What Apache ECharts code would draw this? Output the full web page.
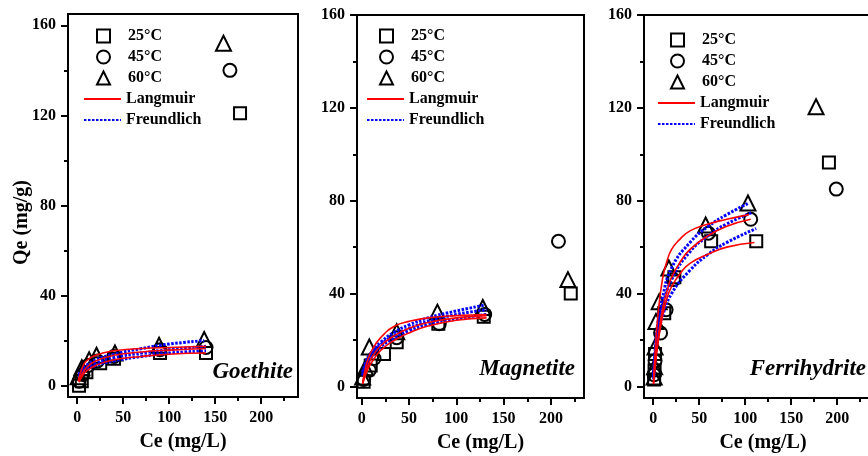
<!DOCTYPE html>
<html><head><meta charset="utf-8">
<script src="https://cdn.jsdelivr.net/npm/echarts@6/dist/echarts.min.js"></script>
<style>html,body{margin:0;padding:0;background:#fff}#c{width:868px;height:456px}</style>
</head><body><div id="c"></div><script>
// ---------- data ----------
const panelNames = ['Goethite', 'Magnetite', 'Ferrihydrite'];
const tempNames = ['25°C', '45°C', '60°C'];
const fitNames = ['Langmuir', 'Freundlich'];
const xTickValues = [0, 50, 100, 150, 200];
const xMinorTickValues = [25, 75, 125, 175, 225];
const yTickValues = [0, 40, 80, 120, 160];
const yMinorTickValues = [20, 60, 100, 140];
const xAxisTitle = 'Ce (mg/L)';
const yAxisTitle = 'Qe (mg/g)';

// Goethite
const goethite25 = [[2,0],[5,2],[10,6],[25,10],[40,12],[90,14.5],[140,14.5],[177,121]];
const goethite45 = [[2,2],[6,5],[12,9],[22,11],[40,13],[90,16],[140,17],[166,140]];
const goethite60 = [[1,4],[5,8],[13,11.5],[21,13.5],[41,14.5],[89,18],[138,20.5],[159,152]];
const goethiteL25 = [[2,1.5],[5,4],[10,6.5],[20,9],[40,11.5],[70,13],[100,14],[140,14.5]];
const goethiteL45 = [[2,2],[5,5],[10,8],[20,11],[40,13.5],[70,15],[100,15.8],[140,16.5]];
const goethiteL60 = [[1,2],[3,5],[6,8.5],[10,11],[20,13.5],[40,15.5],[70,16.5],[100,17],[140,17.5]];
const goethiteF25 = [[2,3],[5,5],[10,7],[20,9],[40,11],[70,13],[100,14.5],[140,15.5]];
const goethiteF45 = [[2,4],[5,6],[10,8],[20,10],[40,12.5],[70,14.5],[100,16],[140,17.5]];
const goethiteF60 = [[2,5],[5,7],[10,9],[20,11.5],[40,14],[70,16.5],[100,18.5],[138,20]];

// Magnetite
const magnetite25 = [[2,2],[9.5,9],[23.5,14],[37,19],[81,27],[129,30],[221,40]];
const magnetite45 = [[2,3],[8,7],[13,12],[37,21],[82,27],[130,31],[208,62.5]];
const magnetite60 = [[1,4],[4,8],[8,17],[37,23.5],[80,32],[128,34],[218,46]];
const magnetiteL25 = [[1,1],[5,6],[10,10],[20,15.5],[35,20],[50,23],[70,26],[100,28.5],[132,29.5]];
const magnetiteL45 = [[1,1.5],[5,7],[10,12],[20,17.5],[35,22],[50,25],[70,27.5],[100,29.5],[132,30.5]];
const magnetiteL60 = [[1,2],[3,6],[6,11],[10,15],[20,21],[35,26],[50,28],[70,29.5],[100,30.5],[132,31]];
const magnetiteF25 = [[1,4.5],[5,9],[10,12.5],[20,17],[35,21],[50,24],[70,26.5],[100,29],[132,31]];
const magnetiteF45 = [[1,5],[5,10],[10,13.5],[20,18],[35,22],[50,25],[70,28],[100,31],[132,33]];
const magnetiteF60 = [[1,6],[5,11],[10,14.5],[20,19],[35,23.5],[50,26.5],[70,29.5],[100,32.5],[130,35]];

// Ferrihydrite
const ferri25 = [[1,3],[1.5,7],[2,14],[12,31.5],[23,47],[63,62.5],[112,62.5],[191,96.5]];
const ferri45 = [[1,5],[2,11],[8,23],[14,33],[22,46],[60,66],[106,72],[199,85]];
const ferri60 = [[1,4],[1.5,8.5],[2,17],[3,28],[6.5,36.5],[17,51],[57,69.5],[103,79],[177,120.5]];
const ferriL25 = [[0.3,1],[2,8],[5,18],[10,30],[15,38],[20,43],[30,49],[40,53],[60,57],[80,60],[110,62]];
const ferriL45 = [[0.3,1],[2,9],[5,20],[10,33],[15,41],[20,47],[30,54],[40,59],[60,65],[80,69],[106,72]];
const ferriL60 = [[0.3,2],[2,14],[5,30],[10,46],[15,54],[20,59],[28,63],[40,67],[60,70],[80,72],[104,74]];
const ferriF25 = [[0.5,3],[2,11],[5,21],[10,30],[20,40],[40,50],[60,57],[80,62],[112,68]];
const ferriF45 = [[0.5,4],[2,13],[5,24],[10,34],[20,46],[40,58],[60,65],[80,70],[108,75]];
const ferriF60 = [[0.5,5],[2,15],[5,27],[10,38],[20,51],[40,62],[60,69],[80,74],[104,79]];

const scatterData = [
  [goethite25, goethite45, goethite60],
  [magnetite25, magnetite45, magnetite60],
  [ferri25, ferri45, ferri60]
];
const langmuirData = [
  [goethiteL25, goethiteL45, goethiteL60],
  [magnetiteL25, magnetiteL45, magnetiteL60],
  [ferriL25, ferriL45, ferriL60]
];
const freundlichData = [
  [goethiteF25, goethiteF45, goethiteF60],
  [magnetiteF25, magnetiteF45, magnetiteF60],
  [ferriF25, ferriF45, ferriF60]
];

// ---------- layout / style ----------
const FONT = "'Liberation Serif', 'Times New Roman', serif";
const grids = [
  {left: 68, top: 14, width: 230, height: 383},
  {left: 357, top: 15, width: 227, height: 383},
  {left: 644, top: 15, width: 230, height: 383}
];
const xRanges = [[-10, 240], [-5, 235], [-10, 240]];
const yRanges = [[-5, 165], [-5, 160], [-5, 160]];
const symbols = ['rect', 'circle', 'triangle'];
const symbolSizes = [12, 13, 15];
const legendLeft = [83, 366, 657];
const legendTop = [28, 28, 32];
const titlePos = [{right: 575, top: 361}, {right: 293, top: 358}, {right: 2, top: 358}];
const xNamePad = [0, 20, 8];

const legendText = {fontFamily: FONT, fontSize: 16, fontWeight: 'bold', color: '#000'};
const option = {
  backgroundColor: '#fff',
  animation: false,
  grid: grids.map(g => Object.assign({show: true, borderColor: '#000', borderWidth: 2, backgroundColor: 'transparent', containLabel: false, outerBoundsMode: 'none'}, g)),
  title: panelNames.map((n, i) => Object.assign({
    text: n, padding: 0,
    textStyle: {fontFamily: FONT, fontSize: 23, fontWeight: 'bold', fontStyle: 'italic', color: '#000'}
  }, titlePos[i])),
  legend: [],
  xAxis: [],
  yAxis: [],
  series: []
};

for (let i = 0; i < 3; i++) {
  // symbol legend (temperatures)
  option.legend.push({
    orient: 'vertical', left: legendLeft[i] + 13, top: legendTop[i],
    data: tempNames,
    itemWidth: 13, itemHeight: 13, itemGap: 5, padding: 0, selectedMode: false,
    textStyle: Object.assign({padding: [0, 0, 0, 13]}, legendText)
  });
  // fit-line legend
  option.legend.push({
    orient: 'vertical', left: legendLeft[i], top: legendTop[i] + 63,
    data: fitNames.map(n => ({name: n, itemStyle: {opacity: 0}})),
    itemWidth: 37, itemHeight: 13, itemGap: 5, padding: 0, selectedMode: false,
    textStyle: Object.assign({}, legendText)
  });
}

for (let i = 0; i < 3; i++) {
  option.xAxis.push({
    type: 'value', gridIndex: i, position: 'bottom', min: xRanges[i][0], max: xRanges[i][1],
    name: xAxisTitle, nameLocation: 'middle', nameGap: 35, nameMoveOverlap: false,
    nameTextStyle: {fontFamily: FONT, fontSize: 20, fontWeight: 'bold', color: '#000', padding: [0, 0, 0, xNamePad[i]]},
    axisLine: {show: true, onZero: false, lineStyle: {color: '#000', width: 2}},
    axisTick: {show: true, inside: false, length: 7, lineStyle: {color: '#000', width: 2}, customValues: xTickValues},
    axisLabel: {show: true, margin: 13, customValues: xTickValues, fontFamily: FONT, fontSize: 16, fontWeight: 'bold', color: '#000'},
    splitLine: {show: false}
  });
  option.yAxis.push({
    type: 'value', gridIndex: i, position: 'left', min: yRanges[i][0], max: yRanges[i][1],
    name: i === 0 ? yAxisTitle : '', nameLocation: 'middle', nameGap: 36, nameMoveOverlap: false,
    nameTextStyle: {fontFamily: FONT, fontSize: 20, fontWeight: 'bold', color: '#000', padding: [0, 34, 0, 0]},
    axisLine: {show: true, onZero: false, lineStyle: {color: '#000', width: 2}},
    axisTick: {show: true, inside: false, length: 7, lineStyle: {color: '#000', width: 2}, customValues: yTickValues},
    axisLabel: {show: true, margin: 12, customValues: yTickValues, fontFamily: FONT, fontSize: 16, fontWeight: 'bold', color: '#000'},
    splitLine: {show: false}
  });
}
for (let i = 0; i < 3; i++) {
  option.xAxis.push({
    type: 'value', gridIndex: i, position: 'bottom', min: xRanges[i][0], max: xRanges[i][1],
    axisLine: {show: false, onZero: false},
    axisTick: {show: true, inside: false, length: 4, lineStyle: {color: '#000', width: 2}, customValues: xMinorTickValues},
    axisLabel: {show: false}, splitLine: {show: false}
  });
  option.yAxis.push({
    type: 'value', gridIndex: i, position: 'left', min: yRanges[i][0], max: yRanges[i][1],
    axisLine: {show: false, onZero: false},
    axisTick: {show: true, inside: false, length: 4, lineStyle: {color: '#000', width: 2}, customValues: yMinorTickValues},
    axisLabel: {show: false}, splitLine: {show: false}
  });
}

for (let i = 0; i < 3; i++) {
  for (let t = 0; t < 3; t++) {
    option.series.push({
      type: 'scatter', name: tempNames[t], xAxisIndex: i, yAxisIndex: i,
      symbol: symbols[t], symbolSize: symbolSizes[t],
      itemStyle: {color: 'rgba(255,255,255,0)', borderColor: '#000', borderWidth: 2, opacity: 1},
      data: scatterData[i][t], z: 2
    });
  }
  for (let t = 0; t < 3; t++) {
    option.series.push({
      type: 'line', name: 'Langmuir', xAxisIndex: i, yAxisIndex: i,
      smooth: true, showSymbol: false, symbol: 'none',
      lineStyle: {color: '#ff0000', width: 1.6, type: 'solid'},
      itemStyle: {color: '#ff0000'},
      data: langmuirData[i][t], z: 4
    });
    option.series.push({
      type: 'line', name: 'Freundlich', xAxisIndex: i, yAxisIndex: i,
      smooth: true, showSymbol: false, symbol: 'none',
      lineStyle: {color: '#0000ff', width: 3, type: [2.5, 1.5]},
      itemStyle: {color: '#0000ff'},
      data: freundlichData[i][t], z: 3
    });
  }
}

const chart = echarts.init(document.getElementById('c'), null, {renderer: 'canvas'});
chart.setOption(option);
</script></body></html>
